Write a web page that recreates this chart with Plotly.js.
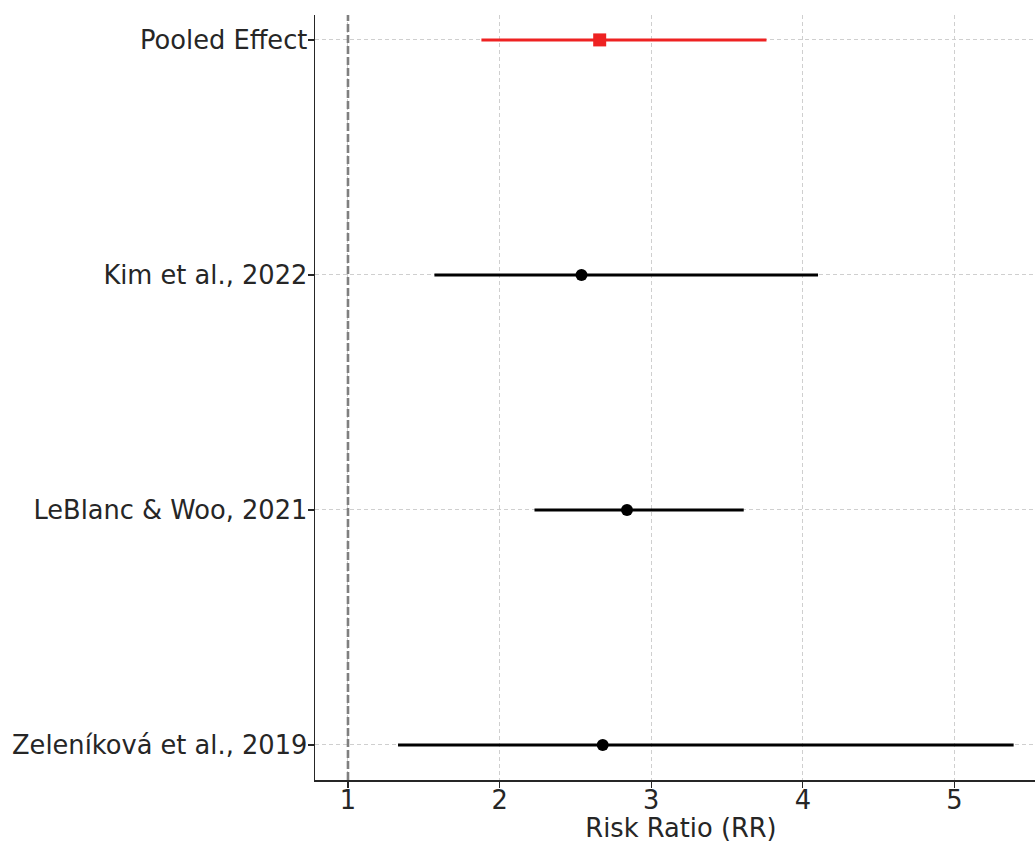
<!DOCTYPE html>
<html>
<head>
<meta charset="utf-8">
<script src="https://cdn.plot.ly/plotly-3.0.1.min.js"></script>
<style>
html, body { margin:0; padding:0; overflow:hidden; background:#fff; width:1035px; height:843px; }
#chart { width:1062px; height:843px; }
</style>
</head>
<body>
<div id="chart"></div>
<script>
// Study data (risk ratios with 95% CI), bottom to top
const studies = ["Zeleníková et al., 2019", "LeBlanc & Woo, 2021", "Kim et al., 2022"];
const studyRR = [2.68, 2.84, 2.54];
const studyLower = [1.33, 2.23, 1.57];
const studyUpper = [5.39, 3.61, 4.10];

const pooledLabel = ["Pooled Effect"];
const pooledRR = [2.66];
const pooledLower = [1.88];
const pooledUpper = [3.76];

const nullEffect = 1;
const xTicks = [1, 2, 3, 4, 5];
const categoryOrder = studies.concat(pooledLabel);

const textColor = "#262626";
const fontFamily = "DejaVu Sans, sans-serif";
const fontSize = 25.7;

const studyTrace = {
  type: "scatter",
  mode: "markers",
  x: studyRR,
  y: studies,
  marker: { color: "#000000", size: 12, symbol: "circle" },
  error_x: {
    type: "data",
    symmetric: false,
    array: studyUpper.map((u, i) => u - studyRR[i]),
    arrayminus: studyLower.map((l, i) => studyRR[i] - l),
    color: "#000000",
    thickness: 3,
    width: 0
  },
  hoverinfo: "x+y",
  showlegend: false
};

const pooledTrace = {
  type: "scatter",
  mode: "markers",
  x: pooledRR,
  y: pooledLabel,
  marker: { color: "#ee2222", size: 13, symbol: "square" },
  error_x: {
    type: "data",
    symmetric: false,
    array: pooledUpper.map((u, i) => u - pooledRR[i]),
    arrayminus: pooledLower.map((l, i) => pooledRR[i] - l),
    color: "#ee2222",
    thickness: 3,
    width: 0
  },
  hoverinfo: "x+y",
  showlegend: false
};

const layout = {
  width: 1062,
  height: 843,
  margin: { l: 315, r: 15, t: 15, b: 63 },
  paper_bgcolor: "#ffffff",
  plot_bgcolor: "#ffffff",
  font: { family: fontFamily, size: fontSize, color: textColor },
  xaxis: {
    range: [0.7825, 5.61],
    tickvals: xTicks,
    ticktext: xTicks.map(String),
    ticks: "outside",
    ticklen: 6,
    tickwidth: 1.2,
    tickcolor: textColor,
    showline: true,
    linecolor: textColor,
    linewidth: 1.5,
    showgrid: true,
    gridcolor: "#cfcfcf",
    griddash: "4px,3px",
    gridwidth: 1,
    zeroline: false,
    tickfont: { size: fontSize, color: textColor },
    ticklabelstandoff: -9,
    title: { text: "Risk Ratio (RR)", font: { size: fontSize, color: textColor }, standoff: 4 }
  },
  yaxis: {
    type: "category",
    categoryorder: "array",
    categoryarray: categoryOrder,
    range: [-0.149, 3.106],
    ticks: "outside",
    ticklen: 6,
    tickwidth: 1.2,
    tickcolor: textColor,
    showline: true,
    linecolor: textColor,
    linewidth: 1.5,
    showgrid: true,
    gridcolor: "#cfcfcf",
    griddash: "4px,3px",
    gridwidth: 1,
    zeroline: false,
    tickfont: { size: fontSize, color: textColor },
    ticklabelstandoff: -5
  },
  shapes: [{
    type: "line",
    xref: "x", yref: "paper",
    x0: nullEffect, x1: nullEffect, y0: 0, y1: 1,
    line: { color: "#7f7f7f", width: 2.6, dash: "8px,3px" },
    layer: "above"
  }]
};

Plotly.newPlot("chart", [studyTrace, pooledTrace], layout, { displayModeBar: false, staticPlot: true });
</script>
</body>
</html>
